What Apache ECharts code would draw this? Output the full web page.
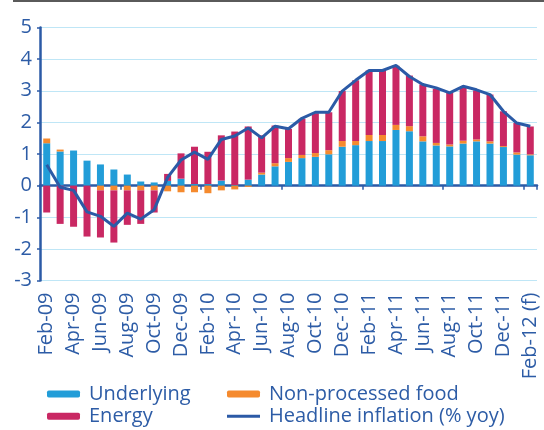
<!DOCTYPE html>
<html>
<head>
<meta charset="utf-8">
<script src="https://cdn.jsdelivr.net/npm/echarts@6/dist/echarts.min.js"></script>
<style>html,body{margin:0;padding:0;background:#fff;}#chart{width:544px;height:430px;}</style>
</head>
<body>
<div id="chart"></div>
<script>
var categories = ['Feb-09','Mar-09','Apr-09','May-09','Jun-09','Jul-09','Aug-09','Sep-09','Oct-09','Nov-09','Dec-09',
  'Jan-10','Feb-10','Mar-10','Apr-10','May-10','Jun-10','Jul-10','Aug-10','Sep-10','Oct-10','Nov-10','Dec-10',
  'Jan-11','Feb-11','Mar-11','Apr-11','May-11','Jun-11','Jul-11','Aug-11','Sep-11','Oct-11','Nov-11','Dec-11',
  'Jan-12','Feb-12 (f)'];
var underlying = [1.34,1.08,1.11,0.79,0.67,0.51,0.35,0.13,0.10,0.15,0.22,
  0.05,0.05,0.16,0.02,0.19,0.35,0.61,0.75,0.87,0.91,0.99,1.23,
  1.28,1.41,1.41,1.76,1.72,1.40,1.27,1.24,1.33,1.40,1.33,1.22,
  0.98,0.96];
var nonProcessedFood = [0.15,0.06,0,0,-0.15,-0.15,-0.15,-0.15,-0.15,-0.18,-0.21,
  -0.21,-0.24,-0.15,-0.12,-0.04,0.06,0.10,0.12,0.10,0.12,0.13,0.18,
  0.13,0.19,0.19,0.16,0.16,0.16,0.08,0.06,0.09,0.06,0.07,0.03,
  0.07,0.03];
var energy = [-0.85,-1.21,-1.30,-1.61,-1.49,-1.65,-1.09,-1.06,-0.70,0.22,0.80,
  1.18,1.02,1.43,1.69,1.68,1.18,1.19,0.92,1.14,1.26,1.20,1.58,
  1.92,2.04,2.04,1.87,1.60,1.64,1.71,1.63,1.69,1.55,1.48,1.10,
  0.93,0.88];
var headline = [0.66,-0.05,-0.15,-0.83,-0.97,-1.29,-0.87,-1.06,-0.76,0.26,0.81,
  1.06,0.83,1.46,1.57,1.82,1.51,1.88,1.80,2.13,2.32,2.32,2.99,
  3.33,3.64,3.64,3.80,3.45,3.20,3.09,2.93,3.14,3.03,2.88,2.35,
  1.98,1.88];
var yTicks = [-3,-2,-1,0,1,2,3,4,5];

var txt = '#2d5ca6';
var font = 'Open Sans';
var lineIcon = 'path://M0,0L33,0L33,3L0,3Z';
var chart = echarts.init(document.getElementById('chart'));
chart.setOption({
  animation: false,
  backgroundColor: '#fff',
  textStyle: {fontFamily: font},
  graphic: [{type:'rect', shape:{x:13, y:0, width:531, height:2}, style:{fill:'#5a5a5a'}}],
  grid: {left: 40, right: 7, top: 27.5, bottom: 149.5, containLabel: false},
  legend: [
    {data: ['Underlying','Energy'], orient:'vertical', left: 47, top: 383, padding: 0, itemWidth: 33, itemHeight: 7, itemGap: 0.3,
     textStyle:{color: txt, fontSize: 20, fontFamily: font, lineHeight: 22, padding:[0,0,0,4]}},
    {data: ['Non-processed food', {name:'Headline inflation (% yoy)', icon: lineIcon}], orient:'vertical', left: 227, top: 383, padding: 0,
     itemWidth: 33, itemHeight: 7, itemGap: 0.3,
     textStyle:{color: txt, fontSize: 20, fontFamily: font, lineHeight: 22, padding:[0,0,0,4]}}
  ],
  xAxis: [
    {type:'category', data: categories, position:'bottom', axisLine:{show:false, onZero:false}, axisTick:{show:false},
     axisLabel:{rotate:90, interval:1, color: txt, fontSize: 20, fontFamily: font, margin: 12}, splitLine:{show:false}},
    {type:'category', data: categories, position:'top', axisLine:{show:true, onZero:true, lineStyle:{color:'#2b5aa6', width:2.5}},
     axisTick:{show:true, inside:true, length:4, lineStyle:{color:'#2b5aa6', width:1.5}}, axisLabel:{show:false}, splitLine:{show:false}}
  ],
  yAxis: {type:'value', min: yTicks[0], max: yTicks[yTicks.length-1], interval: 1,
    axisLine:{show:true, lineStyle:{color:'#2b5aa6', width:2.5}},
    axisTick:{show:true, length:3, lineStyle:{color:'#2b5aa6', width:1.5}},
    axisLabel:{color: txt, fontSize: 20, fontFamily: font, margin: 8},
    splitLine:{show:true, lineStyle:{color:'#bfe6f6', width:1.2}}},
  series: [
    {name:'Underlying', type:'bar', stack:'s', data: underlying, barWidth: 7, itemStyle:{color:'#229dd8'}},
    {name:'Non-processed food', type:'bar', stack:'s', data: nonProcessedFood, barWidth: 7, itemStyle:{color:'#f58a2e'}},
    {name:'Energy', type:'bar', stack:'s', data: energy, barWidth: 7, itemStyle:{color:'#c92863'}},
    {name:'Headline inflation (% yoy)', type:'line', data: headline, symbol:'none', z: 5,
     lineStyle:{color:'#2b5aa6', width:3}, itemStyle:{color:'#2b5aa6'}}
  ]
});
</script>
</body>
</html>
